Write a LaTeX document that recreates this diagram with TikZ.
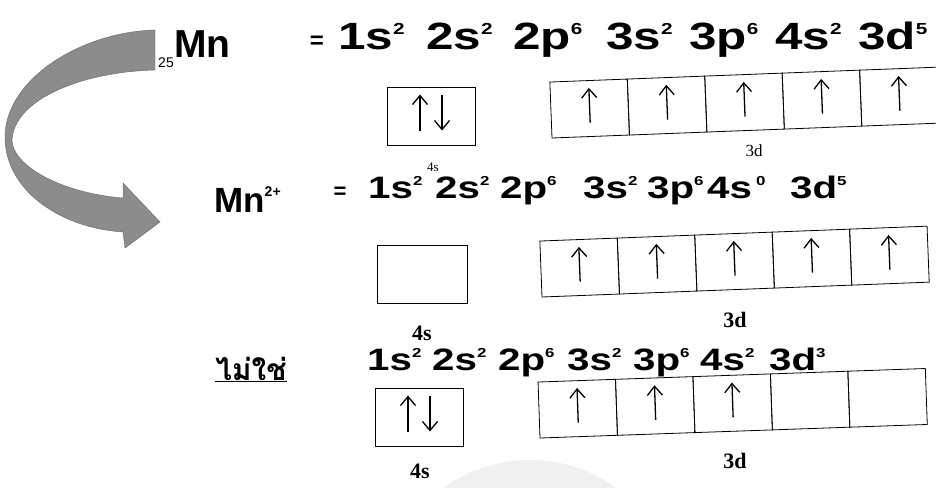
\documentclass[tikz,border=0pt]{standalone}
\usepackage{fontspec}
\usepackage{graphicx}
\setmainfont{Liberation Serif}
\newfontfamily\cfgfont[FakeStretch=1.3]{Liberation Sans}
\newfontfamily\mnfont{Liberation Sans}
\newfontfamily\thaifont[Script=Thai]{Loma}
\usetikzlibrary{arrows.meta,calc}
\newcommand\su[1]{\raisebox{0.40em}{\scalebox{0.42}{#1}}}
\newcommand\spinup[2]{%
  \path ($(#1.south west)!#2!(#1.south east)$) coordinate (qa)
        ($(#1.north west)!#2!(#1.north east)$) coordinate (qb);
  \draw[spin] ($(qa)!0.25!(qb)$) -- ($(qa)!0.87!(qb)$);}
\newcommand\spindown[2]{%
  \path ($(#1.south west)!#2!(#1.south east)$) coordinate (qa)
        ($(#1.north west)!#2!(#1.north east)$) coordinate (qb);
  \draw[spin] ($(qa)!0.87!(qb)$) -- ($(qa)!0.25!(qb)$);}
\tikzset{
  cell/.style={draw, line width=0.8pt, minimum width=77.5pt, minimum height=56pt,
    inner sep=0pt, outer sep=0pt, transform shape},
  sbox/.style={draw, line width=0.8pt, minimum width=88pt, minimum height=58pt,
    inner sep=0pt, outer sep=0pt},
  spin/.style={line width=1.3pt, -{Straight Barb[length=9pt,width=15pt]}},
  cfgbig/.style={font=\cfgfont\bfseries\fontsize{38}{38}\selectfont, inner sep=0pt, anchor=base west},
  cfgsm/.style={font=\cfgfont\bfseries\fontsize{31}{31}\selectfont, inner sep=0pt, anchor=base west},
  lbl/.style={font=\bfseries\fontsize{22}{22}\selectfont, inner sep=0pt},
  stray/.style={font=\fontsize{13}{13}\selectfont, inner sep=0pt},
}
\begin{document}
\begin{tikzpicture}[x=1pt,y=-1pt]
\clip (0,0) rectangle (936,487);
\fill[white] (0,0) rectangle (936,487);
% faint watermark
\fill[black!6] (530,607) circle (147);
% big curved arrow
\fill[black!45, draw=black!60, line width=0.4pt]
  (155,30) .. controls (80,32) and (5,80) .. (5,137)
  .. controls (5,190) and (60,228) .. (123,232)
  -- (125,248) -- (160,222) -- (123,183) -- (123,198)
  .. controls (60,193) and (12,165) .. (12,140)
  .. controls (14,100) and (80,72) .. (155,70) -- cycle;
% row 1
\node[font=\mnfont\bfseries\fontsize{39}{39}\selectfont, inner sep=0pt, anchor=base west] (mn) at (174,58) {Mn};
\node[font=\mnfont\fontsize{14}{14}\selectfont, inner sep=0pt, anchor=base east] (z) at (mn.base west) {\raisebox{-0.7em}{25}};
\node[font=\mnfont\bfseries\fontsize{24}{24}\selectfont, inner sep=0pt] (eq1) at (317,42) {=};
\foreach \x/\t [count=\k] in {338/{1s\su{2}}, 426/{2s\su{2}}, 513/{2p\su{6}}, 606/{3s\su{2}}, 689/{3p\su{6}}, 775/{4s\su{2}}, 858/{3d\su{5}}}
  \node[cfgbig] (ra\k) at (\x,50) {\t};
\node[sbox] (s1) at (431,116) {};
\spinup{s1}{0.375}\spindown{s1}{0.625}
\begin{scope}[shift={(552,138)}, rotate=2.2]
  \foreach \i in {1,...,5}{
    \node[cell, anchor=south west] (a\i) at ({(\i-1)*77.5},0) {};
    \spinup{a\i}{0.5}
  }
\end{scope}
% row 2
\node[font=\mnfont\bfseries\fontsize{35}{35}\selectfont, inner sep=0pt, anchor=base west] (mn2) at (214,212) {Mn\raisebox{0.45em}{\fontsize{14}{14}\selectfont 2+}};
\node[font=\mnfont\bfseries\fontsize{22}{22}\selectfont, inner sep=0pt] (eq2) at (340,193) {=};
\foreach \x/\t [count=\k] in {368/{1s\su{2}}, 435/{2s\su{2}}, 500/{2p\su{6}}, 583/{3s\su{2}}, 647/{3p\su{6}}, 707/{4s\hspace{4pt}\su{0}}, 790/{3d\su{5}}}
  \node[cfgsm] (rb\k) at (\x,198) {\t};
\node[stray] (st1) at (433,167) {4s};
\node[stray, font=\fontsize{17}{17}\selectfont] (st2) at (754,151) {3d};
\node[sbox, minimum width=90pt] (s2) at (422,274) {};
\begin{scope}[shift={(542,297)}, rotate=2.2]
  \foreach \i in {1,...,5}{
    \node[cell, anchor=south west] (b\i) at ({(\i-1)*77.5},0) {};
    \spinup{b\i}{0.5}
  }
\end{scope}
\node[lbl] (l4s2) at (422,333) {4s};
\node[lbl] (l3d2) at (735,320) {3d};
% row 3
\node[font=\thaifont\bfseries\fontsize{30}{30}\selectfont, inner sep=0pt, anchor=base] (thai) at (251,380) {\underline{ไม่ใช่}};
\foreach \x/\t [count=\k] in {367/{1s\su{2}}, 432/{2s\su{2}}, 498/{2p\su{6}}, 567/{3s\su{2}}, 633/{3p\su{6}}, 700/{4s\su{2}}, 769/{3d\su{3}}}
  \node[cfgsm] (rc\k) at (\x,370) {\t};
\node[sbox] (s3) at (419,417) {};
\spinup{s3}{0.375}\spindown{s3}{0.625}
\begin{scope}[shift={(540,438)}, rotate=2.0]
  \foreach \i in {1,...,5}{
    \node[cell, anchor=south west] (c\i) at ({(\i-1)*77.5},0) {};
  }
  \spinup{c1}{0.5}\spinup{c2}{0.5}\spinup{c3}{0.5}
\end{scope}
\node[lbl] (l4s3) at (420,471) {4s};
\node[lbl] (l3d3) at (735,461) {3d};
\end{tikzpicture}
\end{document}
